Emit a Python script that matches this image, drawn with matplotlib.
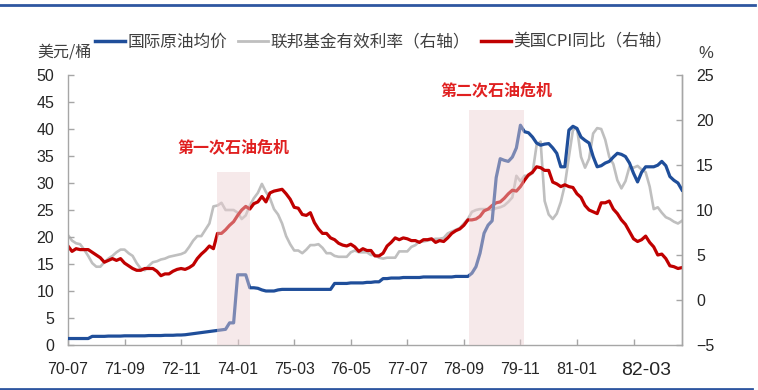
import matplotlib
matplotlib.use("Agg")
import matplotlib.pyplot as plt
from matplotlib.lines import Line2D
from matplotlib.patches import Rectangle
import matplotlib.transforms as mtransforms
import numpy as np

plt.rcParams['font.family'] = ['Noto Sans CJK SC', 'DejaVu Sans']

# monthly, 1970-07 .. 1983-03
oil = [  # 国际原油均价, 美元/桶 (left axis)
    1.2, 1.2, 1.2, 1.2, 1.2, 1.2,
    1.6, 1.6, 1.6, 1.6, 1.65, 1.65, 1.65, 1.65, 1.7, 1.7, 1.7, 1.7,
    1.7, 1.7, 1.75, 1.75, 1.75, 1.75, 1.8, 1.8, 1.8, 1.85, 1.85, 1.9,
    2.0, 2.1, 2.2, 2.3, 2.4, 2.5, 2.6, 2.7, 2.8, 2.9, 4.1, 4.1,
    13.0, 13.0, 13.0, 10.6, 10.6, 10.5, 10.2, 10.0, 10.0, 10.0, 10.2, 10.3,
    10.3, 10.3, 10.3, 10.3, 10.3, 10.3, 10.3, 10.3, 10.3, 10.3, 10.3, 10.3,
    11.4, 11.4, 11.4, 11.4, 11.5, 11.5, 11.5, 11.5, 11.6, 11.6, 11.7, 11.7,
    12.3, 12.3, 12.4, 12.4, 12.4, 12.5, 12.5, 12.5, 12.5, 12.5, 12.6, 12.6,
    12.6, 12.6, 12.6, 12.6, 12.6, 12.6, 12.7, 12.7, 12.7, 12.7, 13.3, 14.5,
    17.0, 20.7, 22.2, 23.0, 31.0, 34.5, 34.2, 34.0, 34.8, 36.5, 40.7, 39.5,
    39.3, 38.5, 37.4, 37.0, 37.2, 37.3, 36.5, 35.5, 33.0, 33.0, 39.8, 40.5,
    40.1, 38.5, 37.9, 37.4, 34.9, 33.0, 33.2, 33.7, 34.0, 34.8, 35.5, 35.3,
    34.9, 33.7, 31.8, 30.2, 32.0, 33.0, 33.0, 33.0, 33.3, 34.0, 33.2, 31.2,
    30.5, 30.0, 28.7,
]

fed_funds = [  # 联邦基金有效利率, % (right axis)
    7.2, 6.6, 6.3, 6.2, 5.6, 4.9,
    4.1, 3.7, 3.7, 4.2, 4.6, 4.9, 5.3, 5.6, 5.6, 5.2, 4.9, 4.1,
    3.5, 3.3, 3.8, 4.2, 4.3, 4.5, 4.6, 4.8, 4.9, 5.0, 5.1, 5.3,
    5.9, 6.6, 7.1, 7.1, 7.8, 8.5, 10.4, 10.5, 10.8, 10.0, 10.0, 10.0,
    9.7, 9.0, 9.4, 10.5, 11.3, 11.9, 12.9, 12.0, 11.3, 10.1, 9.5, 8.5,
    7.1, 6.2, 5.5, 5.5, 5.2, 5.6, 6.1, 6.1, 6.2, 5.8, 5.2, 5.2,
    4.9, 4.8, 4.8, 4.8, 5.3, 5.5, 5.3, 5.3, 5.3, 5.0, 5.0, 4.7,
    4.6, 4.7, 4.7, 4.7, 5.4, 5.4, 5.4, 5.9, 6.1, 6.5, 6.5, 6.6,
    6.7, 6.8, 6.8, 6.9, 7.4, 7.6, 7.8, 8.0, 8.5, 9.0, 9.8, 10.0,
    10.1, 10.1, 10.1, 10.0, 10.2, 10.3, 10.5, 10.9, 11.4, 13.8, 13.2, 13.8,
    13.8, 14.1, 17.2, 17.6, 11.0, 9.5, 9.0, 9.6, 10.9, 12.8, 15.9, 18.9,
    19.1, 15.9, 14.7, 15.7, 18.5, 19.1, 19.0, 17.8, 15.9, 15.1, 13.3, 12.4,
    13.2, 14.8, 14.7, 14.9, 14.5, 14.2, 12.6, 10.1, 10.3, 9.7, 9.2, 9.0,
    8.7, 8.5, 8.8,
]

cpi_yoy = [  # 美国CPI同比, % (right axis)
    6.0, 5.4, 5.7, 5.6, 5.6, 5.6,
    5.3, 5.0, 4.7, 4.2, 4.4, 4.6, 4.4, 4.6, 4.1, 3.8, 3.5, 3.3,
    3.3, 3.5, 3.5, 3.5, 3.2, 2.7, 2.9, 2.9, 3.2, 3.4, 3.5, 3.4,
    3.6, 3.9, 4.6, 5.1, 5.5, 6.0, 5.7, 7.4, 7.4, 7.8, 8.3, 8.7,
    9.4, 10.0, 10.4, 10.1, 10.7, 10.9, 11.5, 10.9, 11.9, 12.1, 12.2, 12.3,
    11.8, 11.2, 10.3, 10.2, 9.5, 9.4, 9.7, 8.6, 7.9, 7.4, 7.4, 6.9,
    6.7, 6.3, 6.1, 6.0, 6.2, 5.9, 5.4, 5.7, 5.5, 5.5, 4.9, 4.9,
    5.2, 6.0, 6.4, 6.9, 6.7, 6.9, 6.8, 6.6, 6.6, 6.4, 6.7, 6.7,
    6.8, 6.4, 6.6, 6.5, 6.9, 7.4, 7.7, 7.9, 8.3, 8.9, 8.9, 9.0,
    9.3, 9.9, 10.1, 10.5, 10.8, 10.9, 11.3, 11.8, 12.2, 12.1, 12.6, 13.3,
    13.9, 14.2, 14.8, 14.7, 14.4, 14.4, 13.1, 12.9, 12.6, 12.8, 12.6, 12.5,
    11.8, 11.4, 10.5, 10.0, 9.8, 9.6, 10.8, 10.8, 11.0, 10.1, 9.6, 8.9,
    8.4, 7.6, 6.8, 6.5, 6.7, 7.1, 6.4, 5.9, 5.0, 5.1, 4.6, 3.8,
    3.7, 3.5, 3.6,
]

tick_labels = ["70-07", "71-09", "72-11", "74-01", "75-03", "76-05",
               "77-07", "78-09", "79-11", "81-01", "82-03"]

# oil crises: (start month index, end month index, box top, label height, label)
crises = [(36.9, 45.0, 32.0, 36.6, "第一次石油危机"),
          (99.3, 112.9, 43.5, 47.2, "第二次石油危机")]

BLUE = "#1F4E9A"
GRAY = "#BFBFBF"
RED = "#C00000"
TXT = "#404040"
SPINE = "#A6A6A6"

n = len(oil)
x = np.arange(n)

fig = plt.figure(figsize=(7.58, 3.90), dpi=100)
ax = fig.add_axes([68 / 758, 1 - 345 / 390, 614 / 758, 270 / 390])
ax2 = ax.twinx()

ax2.plot(x, fed_funds, color=GRAY, lw=1.9, zorder=2)
ax2.plot(x, cpi_yoy, color=RED, lw=2.3, zorder=3)
ax.plot(x, oil, color=BLUE, lw=2.3, zorder=3)

# draw the oil line above the right axes content
ax.set_zorder(ax2.get_zorder() + 1)
ax.patch.set_visible(False)

for x0, x1, top, ylab, label in crises:
    ax.add_patch(Rectangle((x0, 0), x1 - x0, top, facecolor="#ECCFD2",
                           edgecolor="none", alpha=0.45, zorder=5))
    ax.text((x0 + x1) / 2, ylab, label,
            color="#E02020", fontsize=11.5, fontweight="bold",
            ha="center", va="center", zorder=6)

ax.set_xlim(0, n - 1)
ax.set_ylim(0, 50)
ax2.set_ylim(-5, 25)
ax.set_yticks(np.arange(0, 51, 5))
ax2.set_yticks(np.arange(-5, 26, 5))
ax.set_xticks(np.arange(0, n, 14))
ax.set_xticklabels(tick_labels)

for a in (ax, ax2):
    a.spines["top"].set_visible(False)
    for side in ("left", "right", "bottom"):
        a.spines[side].set_color(SPINE)
        a.spines[side].set_linewidth(1.0)
    a.tick_params(direction="in", length=4, width=1.0, color=SPINE,
                  labelcolor="#262626", pad=10, labelsize=11.5)
    for lab in a.get_yticklabels() + a.get_xticklabels():
        lab.set_family(["Liberation Sans", "DejaVu Sans"])
ax.tick_params(axis="x", pad=12)
ax2.spines["left"].set_visible(False)
ax2.spines["bottom"].set_visible(False)

# last date label is drawn larger and nudged right
last = ax.get_xticklabels()[-1]
last.set_fontsize(14)
last.set_transform(last.get_transform() +
                   mtransforms.ScaledTranslation(13 / 100, 0, fig.dpi_scale_trans))

# units
fig.text(37 / 758, 1 - 52 / 390, "美元/桶", color=TXT, fontsize=11.5,
         ha="left", va="center")
fig.text(706 / 758, 1 - 54 / 390, "%", color=TXT, fontsize=12,
         ha="center", va="center", family=["Liberation Sans", "DejaVu Sans"])

handles = [Line2D([], [], color=BLUE, lw=2.5),
           Line2D([], [], color=GRAY, lw=2.0),
           Line2D([], [], color=RED, lw=2.5)]
labels = ["国际原油均价", "联邦基金有效利率（右轴）", "美国CPI同比（右轴）"]
leg = fig.legend(handles, labels, loc="center left",
                 bbox_to_anchor=(95 / 758, 1 - 42 / 390), ncol=3,
                 frameon=False, fontsize=12, handlelength=1.8,
                 handletextpad=0.15, columnspacing=0.65,
                 borderpad=0, borderaxespad=0)
for t in leg.get_texts():
    t.set_color(TXT)

# page frame lines
fig.add_artist(Line2D([0, 755 / 758], [1 - 4.5 / 390] * 2, color="#2E56A0",
                      lw=2.0, transform=fig.transFigure))
fig.add_artist(Line2D([0, 752 / 758], [1 - 388.5 / 390] * 2, color="#2E56A0",
                      lw=2.0, transform=fig.transFigure))

fig.savefig("out.png", dpi=100)
